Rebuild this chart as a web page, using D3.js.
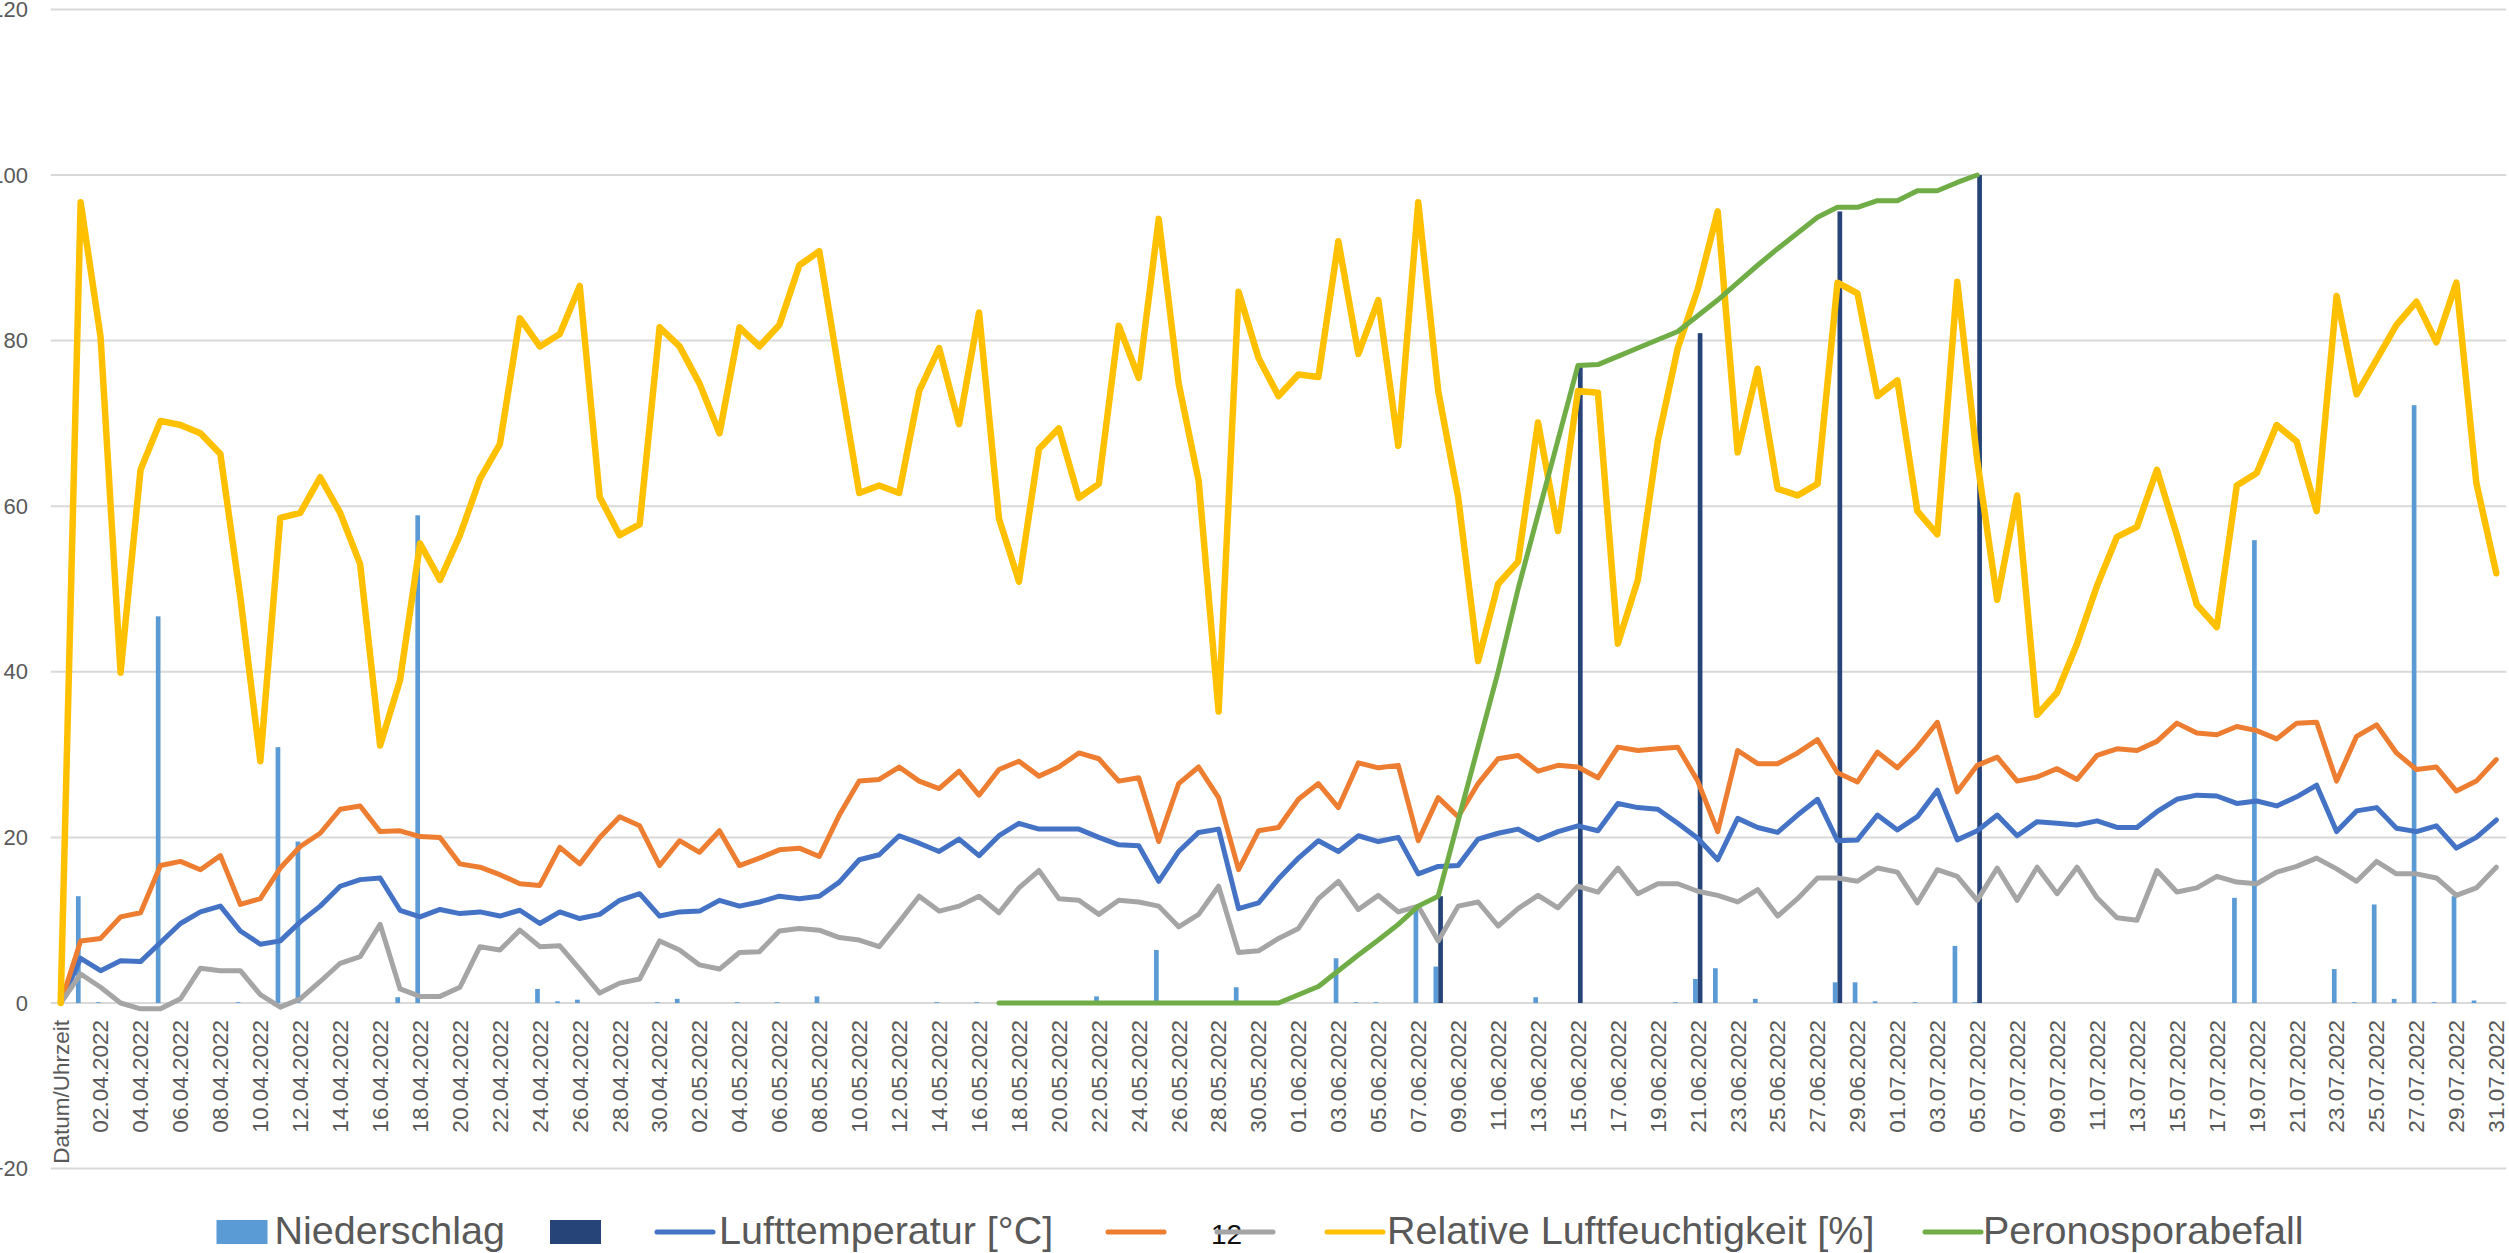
<!DOCTYPE html>
<html>
<head>
<meta charset="utf-8">
<script src="https://cdn.jsdelivr.net/npm/d3@7"></script>
<style>
	body { margin: 0; background: #fff; }
	text { font-family: "Liberation Sans", Arial, sans-serif; }
</style>
</head>
<body>
<svg id="chart" width="2509" height="1253"></svg>
<script>
"use strict";

// categories: header row + every day 01.04.2022 - 31.07.2022
var dates = d3.timeDay.range(new Date(2022, 3, 1), new Date(2022, 7, 1))
	.map(d3.timeFormat("%d.%m.%Y"));
var categories = ["Datum/Uhrzeit"].concat(dates);

var yTicks = [-20, 0, 20, 40, 60, 80, 100, 120];

// Niederschlag (light blue bars)
var niederschlag = [
	0, 12.9, 0.1, 0, 0, 46.7, 0, 0, 0, 0.1, 0,
	30.9, 19.5, 0, 0, 0, 0, 0.7, 58.9, 0, 0,
	0, 0, 0, 1.7, 0.2, 0.4, 0, 0, 0, 0.1,
	0.5, 0, 0, 0.1, 0, 0.1, 0, 0.8, 0, 0,
	0, 0, 0, 0.1, 0, 0.1, 0, 0, 0, 0,
	0, 0.8, 0, 0, 6.4, 0, 0, 0, 1.9, 0,
	0, 0, 0, 5.4, 0.1, 0.1, 0, 11.4, 4.4, 0,
	0, 0, 0, 0.7, 0, 0, 0, 0, 0, 0,
	0.1, 2.9, 4.2, 0, 0.5, 0, 0, 0, 2.5, 2.5,
	0.2, 0, 0.1, 0, 6.9, 0.1, 0, 0, 0, 0,
	0, 0, 0, 0, 0, 0, 0, 0, 12.7, 55.9,
	0, 0, 0, 4.1, 0.1, 11.9, 0.5, 72.2, 0.1, 12.9, 0.3, 0
];

// dark blue bars (Befall an Boniturtagen)
var bonitur = new Array(123).fill(null);
bonitur[69] = 12.9;
bonitur[76] = 77.1;
bonitur[82] = 80.9;
bonitur[89] = 95.6;
bonitur[96] = 100;

var lufttemperatur = [
	0, 5.4, 3.9, 5.1, 5.0, 7.3, 9.6, 11.0, 11.7, 8.7, 7.1,
	7.5, 9.8, 11.7, 14.1, 14.9, 15.1, 11.2, 10.4, 11.3, 10.8,
	11.0, 10.5, 11.2, 9.6, 11.0, 10.2, 10.7, 12.4, 13.2, 10.5,
	11.0, 11.1, 12.4, 11.7, 12.2, 12.9, 12.6, 12.9, 14.6, 17.3,
	17.9, 20.2, 19.3, 18.3, 19.8, 17.8, 20.2, 21.7, 21.0, 21.0,
	21.0, 20.0, 19.1, 19.0, 14.7, 18.3, 20.6, 21.0, 11.4, 12.1,
	15.0, 17.5, 19.6, 18.3, 20.2, 19.5, 20.0, 15.6, 16.5, 16.6,
	19.8, 20.5, 21.0, 19.7, 20.7, 21.4, 20.8, 24.1, 23.6, 23.4,
	21.7, 19.9, 17.3, 22.3, 21.2, 20.6, 22.7, 24.6, 19.6, 19.7,
	22.7, 20.9, 22.5, 25.7, 19.7, 20.8, 22.7, 20.2, 21.9, 21.7,
	21.5, 22.0, 21.2, 21.2, 23.1, 24.6, 25.1, 25.0, 24.1, 24.4,
	23.8, 24.9, 26.3, 20.7, 23.2, 23.6, 21.1, 20.7, 21.4, 18.7, 20.0, 22.1
];

// orange series (no legend text)
var maxTemp = [
	0, 7.5, 7.8, 10.4, 10.9, 16.6, 17.1, 16.1, 17.8, 11.9, 12.6,
	16.3, 18.9, 20.5, 23.4, 23.8, 20.7, 20.8, 20.1, 20.0, 16.8,
	16.4, 15.5, 14.4, 14.2, 18.8, 16.8, 20.0, 22.5, 21.4, 16.6,
	19.6, 18.2, 20.8, 16.6, 17.5, 18.5, 18.7, 17.7, 22.7, 26.8,
	27.0, 28.5, 26.8, 25.9, 28.0, 25.1, 28.2, 29.2, 27.4, 28.5,
	30.2, 29.5, 26.8, 27.2, 19.5, 26.5, 28.5, 24.8, 16.1, 20.8,
	21.2, 24.6, 26.5, 23.6, 29.0, 28.4, 28.7, 19.6, 24.8, 22.5,
	26.5, 29.5, 29.9, 28.0, 28.7, 28.5, 27.2, 30.9, 30.5, 30.7,
	30.9, 26.8, 20.7, 30.5, 28.9, 28.9, 30.2, 31.8, 27.8, 26.7,
	30.3, 28.4, 30.9, 33.9, 25.5, 28.7, 29.7, 26.8, 27.3, 28.3,
	27.0, 29.9, 30.7, 30.5, 31.6, 33.8, 32.6, 32.4, 33.4, 32.9,
	31.9, 33.8, 33.9, 26.8, 32.2, 33.6, 30.2, 28.2, 28.5, 25.6, 26.8, 29.4
];

// gray series ("12")
var minTemp = [
	0, 3.5, 1.9, 0, -0.7, -0.7, 0.5, 4.2, 3.9, 3.9, 1.0,
	-0.5, 0.5, 2.6, 4.8, 5.6, 9.5, 1.7, 0.8, 0.8, 1.9,
	6.8, 6.4, 8.8, 6.8, 6.9, 4.1, 1.2, 2.4, 2.9, 7.5,
	6.4, 4.6, 4.1, 6.1, 6.2, 8.7, 9.0, 8.8, 7.9, 7.6,
	6.8, 9.8, 12.9, 11.1, 11.7, 12.9, 10.9, 13.9, 16.0, 12.6,
	12.4, 10.7, 12.4, 12.2, 11.7, 9.2, 10.7, 14.1, 6.1, 6.3,
	7.8, 9.0, 12.6, 14.7, 11.3, 13.0, 11.0, 11.7, 7.5, 11.7,
	12.2, 9.3, 11.4, 13.0, 11.5, 14.1, 13.4, 16.3, 13.2, 14.4,
	14.4, 13.5, 13.0, 12.2, 13.7, 10.5, 12.6, 15.1, 15.1, 14.7,
	16.3, 15.8, 12.1, 16.1, 15.3, 12.4, 16.3, 12.4, 16.4, 13.2,
	16.4, 12.7, 10.3, 10.0, 16.0, 13.4, 13.9, 15.3, 14.6, 14.4,
	15.8, 16.5, 17.5, 16.2, 14.7, 17.1, 15.6, 15.6, 15.1, 13.0, 13.9, 16.4
];

var luftfeuchtigkeit = [
	0, 96.7, 80.4, 39.9, 64.4, 70.3, 69.8, 68.8, 66.3, 49.0, 29.2,
	58.6, 59.2, 63.5, 59.2, 53.0, 31.1, 39.0, 55.5, 51.1, 56.5,
	63.3, 67.5, 82.7, 79.3, 80.8, 86.6, 61.1, 56.5, 57.8, 81.6,
	79.3, 74.8, 68.8, 81.6, 79.3, 81.9, 89.1, 90.8, 76.0, 61.6,
	62.5, 61.6, 73.9, 79.1, 69.9, 83.4, 58.5, 50.9, 66.9, 69.4,
	61.0, 62.7, 81.8, 75.5, 94.7, 74.8, 63.1, 35.2, 85.9, 77.9,
	73.3, 75.9, 75.6, 92.0, 78.4, 84.9, 67.3, 96.7, 73.9, 61.1,
	41.3, 50.6, 53.3, 70.1, 57.0, 73.9, 73.7, 43.4, 51.1, 67.9,
	79.1, 86.2, 95.6, 66.5, 76.6, 62.1, 61.3, 62.7, 87.0, 85.7,
	73.3, 75.2, 59.4, 56.6, 87.1, 65.5, 48.7, 61.3, 34.8, 37.5,
	43.4, 50.4, 56.3, 57.5, 64.4, 56.5, 48.1, 45.4, 62.5, 64.0,
	69.8, 67.8, 59.4, 85.4, 73.5, 77.7, 81.9, 84.7, 79.8, 87.0, 62.8, 51.9
];

var peronospora = new Array(47).fill(null).concat([
	0, 0, 0, 0, 0, 0, 0, 0, 0, 0, 0, 0, 0, 0, 0,
	1.0, 2.0, 3.9, 5.8, 7.6, 9.5, 11.7, 12.9,
	22, 31, 40, 50, 59, 68, 77,
	77.1, 78.1, 79.1, 80.1, 81.1, 83.0, 84.9, 87.0, 89.1, 91.1,
	93.0, 94.9, 96.1, 96.1, 96.9, 96.9, 98.1, 98.1, 99.1, 100
]);
while (peronospora.length < 123) peronospora.push(null);

var svg = d3.select("#chart");

var plot = { left: 50.7, right: 2506.3, top: 9.4, bottom: 1168.6 };

var x = d3.scaleBand()
	.domain(categories)
	.range([plot.left, plot.right])
	.paddingInner(0.53)
	.paddingOuter(0.265);

var xSub = d3.scaleBand()
	.domain(["niederschlag", "bonitur"])
	.range([0, x.bandwidth()]);

var y = d3.scaleLinear()
	.domain([-20, 120])
	.range([plot.bottom, plot.top]);

function cx(i) { return x(categories[i]) + x.bandwidth() / 2; }

// grid
svg.append("g")
	.selectAll("line")
	.data(yTicks)
	.enter().append("line")
	.attr("x1", plot.left)
	.attr("x2", plot.right)
	.attr("y1", function(d) { return y(d); })
	.attr("y2", function(d) { return y(d); })
	.attr("stroke", "#d9d9d9")
	.attr("stroke-width", 2);

// y axis labels (cut at the left edge, as in the original export)
var yAxis = svg.append("g")
	.attr("transform", "translate(" + plot.left + ",0)")
	.call(d3.axisLeft(y).tickValues(yTicks).tickSize(0).tickPadding(22.7));
yAxis.select(".domain").remove();
yAxis.selectAll("text")
	.style("font-family", "Liberation Sans, Arial, sans-serif")
	.style("font-size", "22px")
	.attr("fill", "#595959");

// x axis labels
var xAxis = svg.append("g")
	.attr("transform", "translate(0," + y(0) + ")")
	.call(d3.axisBottom(x)
		.tickValues(categories.filter(function(d, i) { return i % 2 === 0; }))
		.tickSize(0));
xAxis.select(".domain").remove();
xAxis.selectAll("text")
	.attr("transform", "rotate(-90)")
	.attr("x", -17)
	.attr("y", 0)
	.attr("dy", "0.35em")
	.style("text-anchor", "end")
	.style("font-family", "Liberation Sans, Arial, sans-serif")
	.style("font-size", "22.5px")
	.attr("fill", "#595959");

// bars
function drawBars(values, key, color) {
	svg.append("g")
		.selectAll("rect")
		.data(values.map(function(v, i) { return { i: i, v: v }; })
			.filter(function(d) { return d.v !== null && d.v > 0; }))
		.enter().append("rect")
		.attr("x", function(d) { return x(categories[d.i]) + xSub(key); })
		.attr("width", xSub.bandwidth())
		.attr("y", function(d) { return y(d.v); })
		.attr("height", function(d) { return y(0) - y(d.v); })
		.attr("fill", color);
}
drawBars(niederschlag, "niederschlag", "#5b9bd5");
drawBars(bonitur, "bonitur", "#264478");

// lines
var line = d3.line()
	.defined(function(d) { return d !== null; })
	.x(function(d, i) { return cx(i); })
	.y(function(d) { return y(d); });

function drawLine(values, color, width) {
	svg.append("path")
		.datum(values)
		.attr("d", line)
		.attr("fill", "none")
		.attr("stroke", color)
		.attr("stroke-width", width)
		.attr("stroke-linejoin", "round")
		.attr("stroke-linecap", "round");
}
drawLine(lufttemperatur, "#4472c4", 5);
drawLine(maxTemp, "#ed7d31", 5);
drawLine(minTemp, "#a5a5a5", 5);
drawLine(luftfeuchtigkeit, "#ffc000", 6.5);
drawLine(peronospora, "#70ad47", 5);

// legend
var legend = svg.append("g").attr("class", "legend");
var ly = 1232;

function legendRect(x0, color) {
	legend.append("rect")
		.attr("x", x0).attr("y", ly - 12)
		.attr("width", 51).attr("height", 24)
		.attr("fill", color);
}
function legendLine(x0, color) {
	legend.append("line")
		.attr("x1", x0).attr("x2", x0 + 56)
		.attr("y1", ly).attr("y2", ly)
		.attr("stroke", color)
		.attr("stroke-width", 5)
		.attr("stroke-linecap", "round");
}
function legendText(x0, label, size, color) {
	legend.append("text")
		.attr("x", x0).attr("y", 1244)
		.style("font-size", size + "px")
		.attr("fill", color)
		.text(label);
}

legendRect(216.5, "#5b9bd5");
legendText(274.5, "Niederschlag", 39.5, "#595959");
legendRect(550, "#264478");
legendLine(657, "#4472c4");
legendText(719, "Lufttemperatur [°C]", 39.5, "#595959");
legendLine(1108, "#ed7d31");
legendText(1211, "12", 28, "#111");
legendLine(1217, "#a5a5a5");
legendLine(1327, "#ffc000");
legendText(1387, "Relative Luftfeuchtigkeit [%]", 39.5, "#595959");
legendLine(1925, "#70ad47");
legendText(1983, "Peronosporabefall", 39.5, "#595959");
</script>
</body>
</html>
